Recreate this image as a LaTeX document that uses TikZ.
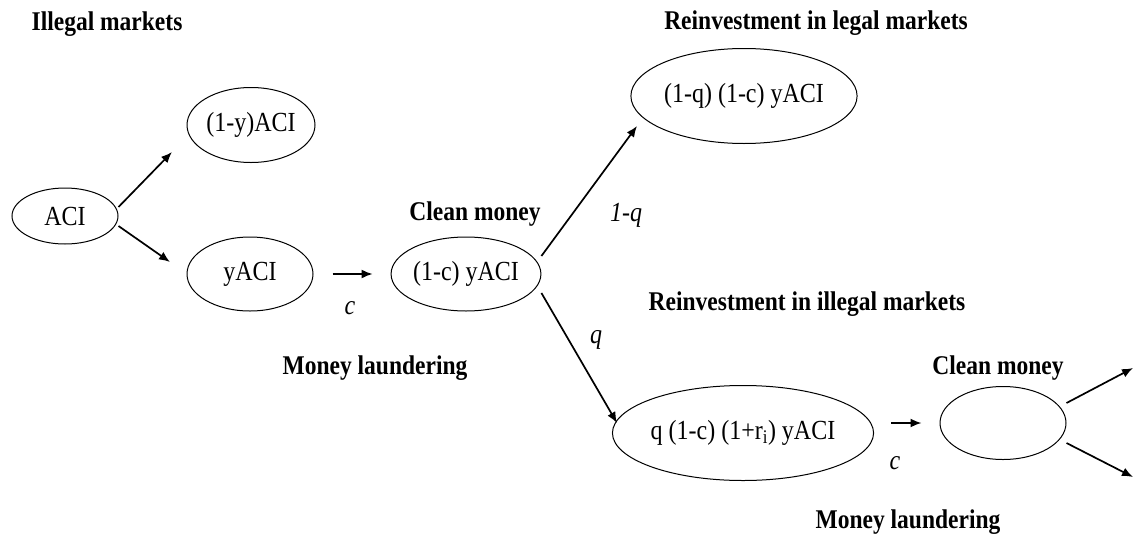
\documentclass[tikz,border=0pt]{standalone}
\usepackage{fontspec}
\setmainfont{Liberation Serif}
\usetikzlibrary{shapes.geometric,arrows.meta}
\newcommand{\tallt}[1]{\scalebox{1}[1.15]{#1}}
\begin{document}
\begin{tikzpicture}[x=1pt,y=-1pt,
  ell/.style={draw, ellipse, inner sep=0pt, line width=1pt, font=\fontsize{24}{28}\selectfont},
  head/.style={font=\fontsize{23.5}{27}\selectfont\bfseries, inner sep=0pt},
  lab/.style={font=\fontsize{24}{28}\selectfont\itshape, inner sep=0pt},
  arr/.style={line width=1.7pt, -{Latex[length=11pt,width=9pt]}}]
\useasboundingbox (0,0) rectangle (1135,536);
% ellipses
\node[ell, minimum width=106pt, minimum height=56pt] (aci) at (65,216) {\tallt{ACI}};
\node[ell, minimum width=128pt, minimum height=75pt] (oney) at (251,125) {\tallt{(1-y)ACI}};
\node[ell, minimum width=126pt, minimum height=74pt] (yaci) at (250,274) {\tallt{yACI}};
\node[ell, minimum width=126pt, minimum height=74pt] (clean1) at (466,274) {\tallt{(1-c) yACI}};
\node[ell, minimum width=217pt, minimum height=95pt] (legal) at (744,96) {\raisebox{6pt}{\tallt{(1-q) (1-c) yACI}}};
\node[ell, minimum width=217pt, minimum height=95pt] (illegal) at (743,433) {\tallt{q (1-c) (1+r\textsubscript{i}) yACI}};
\node[ell, minimum width=126pt, minimum height=73pt] (empty) at (1003,423) {};
% arrow end points
\coordinate (t1) at (172,152);
\coordinate (t2) at (170,262);
\coordinate (t3) at (637,126);
\coordinate (t4) at (617,423);
\coordinate (t5) at (1133,368);
\coordinate (t6) at (1133,477);
% connectors
\draw[arr] ([yshift=9pt]aci.east) -- (t1);
\draw[arr] ([yshift=-10pt]aci.east) -- (t2);
\draw[arr, shorten <=19pt, shorten >=18pt] (yaci.east) -- (clean1.west);
\draw[arr] ([yshift=18pt]clean1.east) -- (t3);
\draw[arr] ([yshift=-19pt]clean1.east) -- (t4);
\draw[arr, shorten <=17pt, shorten >=18pt] (illegal.east |- empty.west) -- (empty.west);
\draw[arr] ([yshift=20pt]empty.east) -- (t5);
\draw[arr] ([yshift=-20pt]empty.east) -- (t6);
% labels
\node[head] (h1) at (107,24) {\tallt{Illegal markets}};
\node[head] (h2) at (816,23) {\tallt{Reinvestment in legal markets}};
\node[head] (h3) at (475,214) {\tallt{Clean money}};
\node[lab] (l1) at (626,215) {\tallt{1-q}};
\node[lab] (c1) at (350,308) {\tallt{c}};
\node[head] (m1) at (375,368) {\tallt{Money laundering}};
\node[head] (h4) at (807,304) {\tallt{Reinvestment in illegal markets}};
\node[lab] (q1) at (596,340) {\tallt{q}};
\node[head] (h5) at (998,368) {\tallt{Clean money}};
\node[lab] (c2) at (895,463) {\tallt{c}};
\node[head] (m2) at (908,522) {\tallt{Money laundering}};
\end{tikzpicture}
\end{document}
